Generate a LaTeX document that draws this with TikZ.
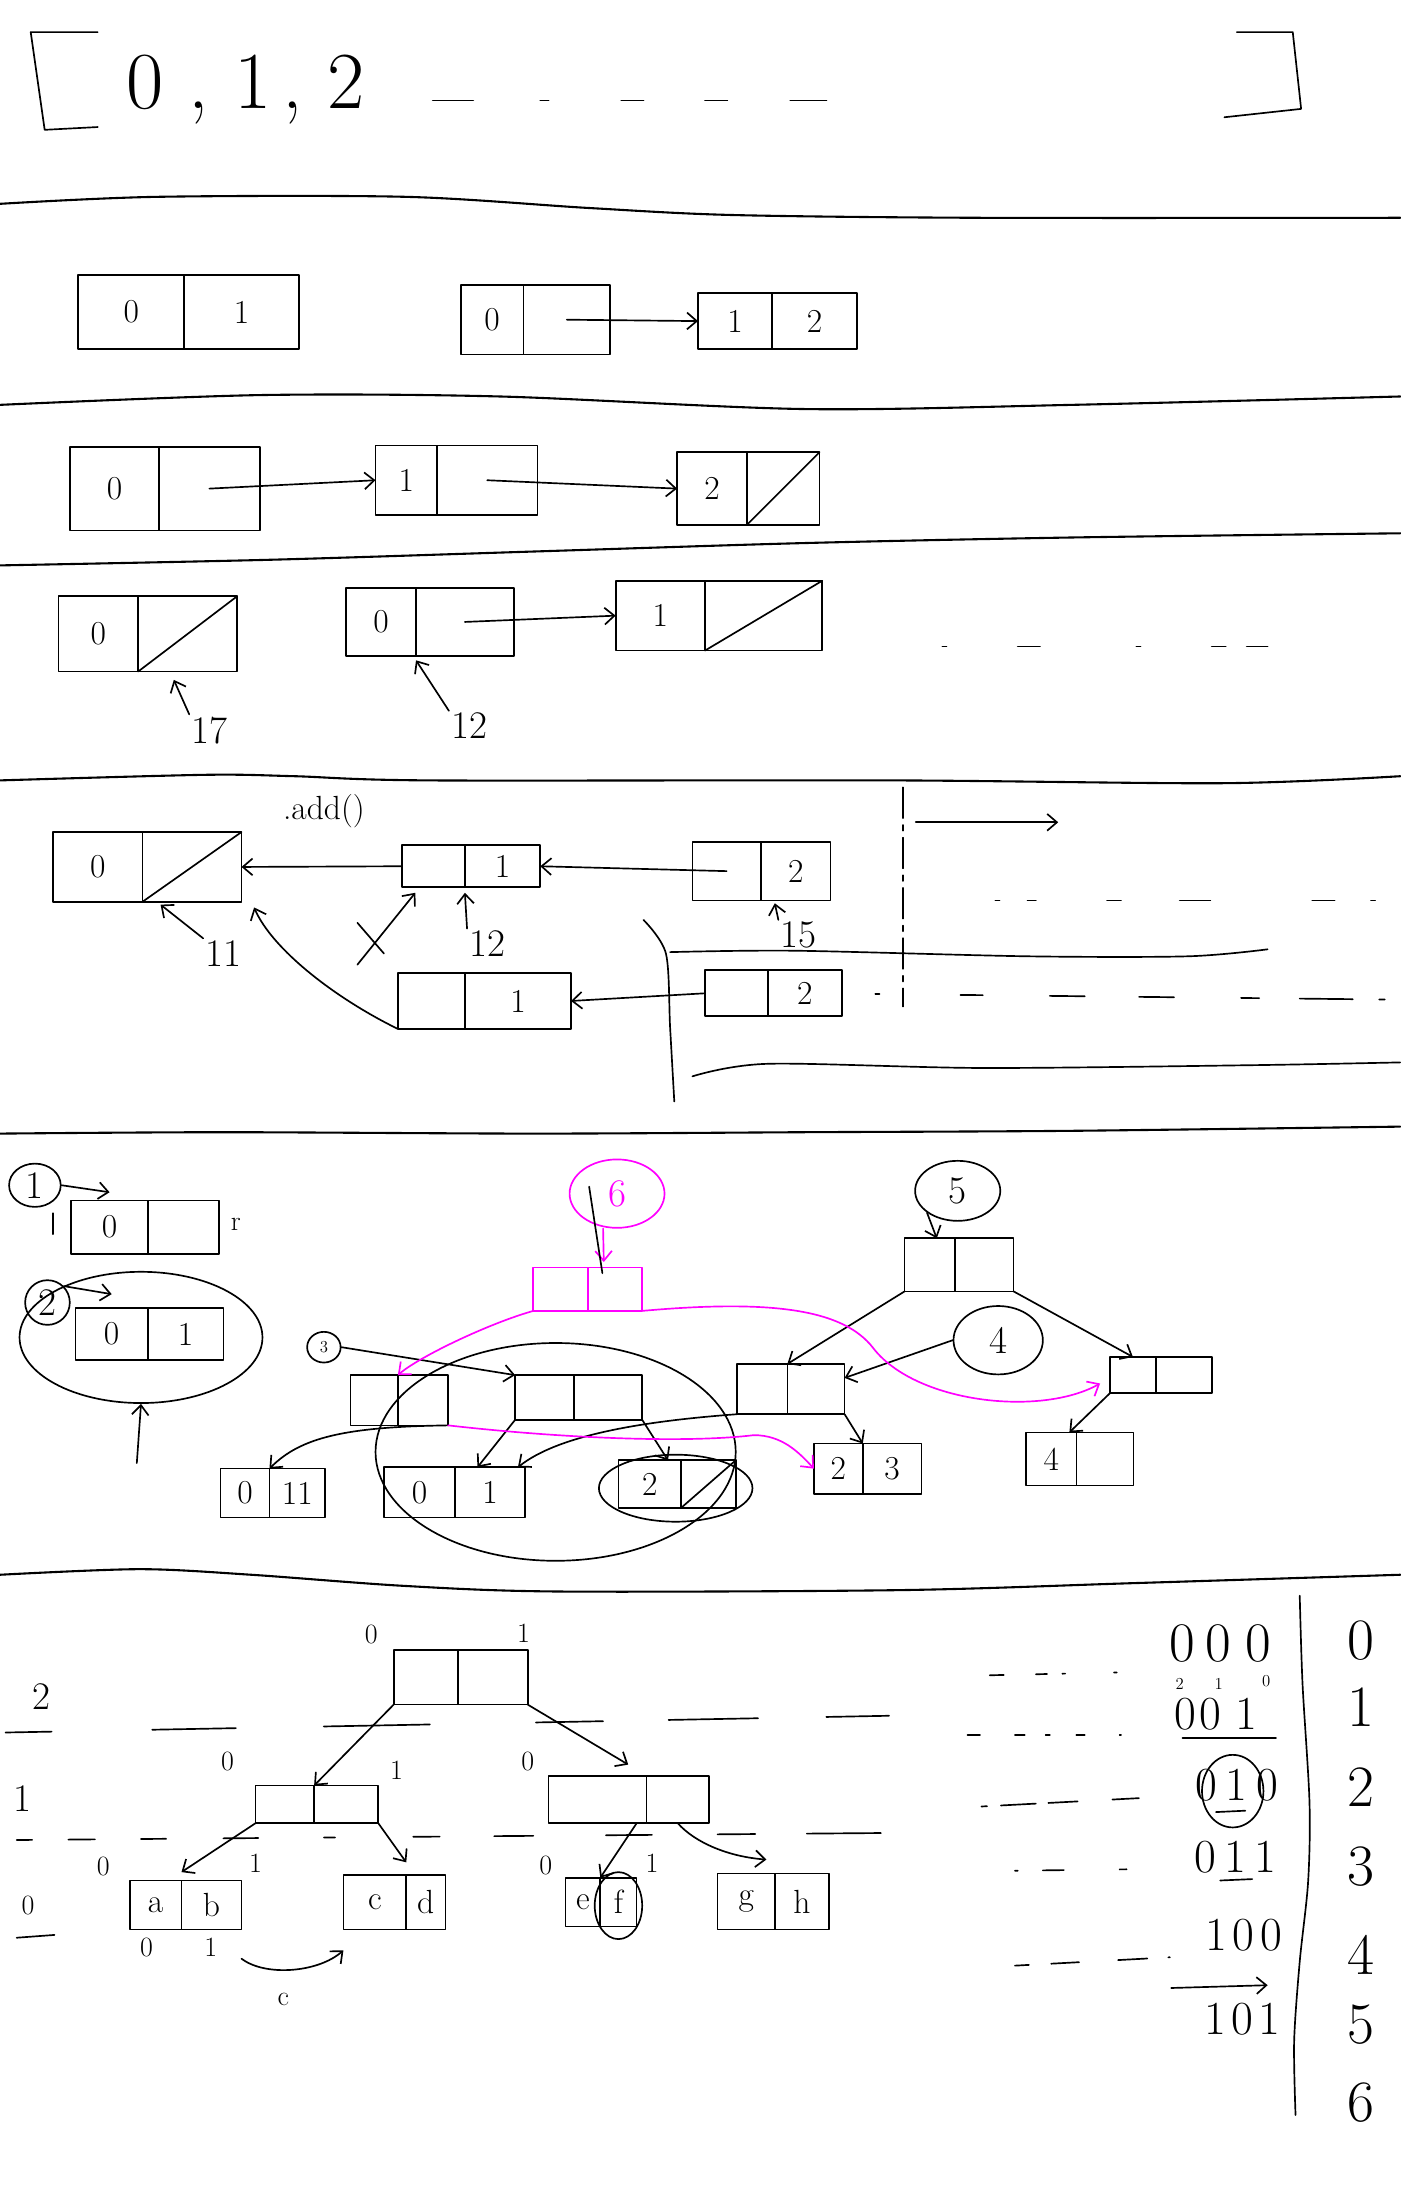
\documentclass[tikz,border=0pt]{standalone}
\usepackage{fontspec}
\usetikzlibrary{arrows.meta,positioning,shapes.geometric}
\definecolor{pen}{RGB}{255,0,255}

\begin{document}
\begin{tikzpicture}[x=1pt,y=-1pt,line width=1.2pt,line cap=round,line join=round,
                    >={Straight Barb[length=7pt,width=12pt]},
                    every edge/.append style={->},
                    half/.style={draw,inner sep=0pt,outer sep=0pt,font=\fontsize{24}{28}\selectfont},
                    ring/.style={draw,ellipse,inner sep=0pt},
                    num/.style={inner sep=1pt,font=\fontsize{28}{32}\selectfont},
                    bit/.style={inner sep=1pt,font=\fontsize{20}{24}\selectfont},
                    word/.style={inner sep=1pt,font=\fontsize{34}{38}\selectfont},
                    col/.style={inner sep=1pt,font=\fontsize{42}{46}\selectfont},
                    tiny/.style={inner sep=0pt,font=\fontsize{12}{14}\selectfont},
                    hsep/.style={line width=1.5pt}]

 \useasboundingbox (0,0) rectangle (1003,1568);

 % the list
 \draw (70,23) -- (22,23) -- (32,93) -- (70,91);
 \draw (886,23) -- (926,23) -- (932,78) -- (877,84);
 \node[anchor=base west,inner sep=0pt,font=\fontsize{58}{64}\selectfont] (seq) at (90,78) {0\hspace{18pt},\hspace{18pt}1\hspace{8pt},\hspace{18pt}2};
 \draw[dash pattern=on 29pt off 48pt on 6pt off 52pt on 16pt off 44pt on 16pt off 45pt on 26pt off 20pt] (310,72) -- (592,72);
 \draw[hsep] plot[smooth] coordinates {(0,146) (112,141) (291,141) (422,149) (524,154) (700,156) (1003,156)};

 % one and two nodes
 \node[half,minimum width=76,minimum height=53] (A0) at (94,223.5) {0};
 \node[half,minimum width=82,minimum height=53,right=0pt of A0] (A1) {1};
 \node[half,minimum width=45,minimum height=50] (B0) at (352.5,229) {0};
 \node[half,minimum width=62,minimum height=50,right=0pt of B0] (B1) {};
 \node[half,minimum width=53,minimum height=40] (C0) at (526.5,230) {1};
 \node[half,minimum width=61,minimum height=40,right=0pt of C0] (C1) {2};
 \path (B1.center) edge (C0.west);
 \draw[hsep] plot[smooth] coordinates {(0,290) (186,283) (358,284) (576,293) (768,290) (1003,284)};

 % chain
 \node[half,minimum width=64,minimum height=60] (D0) at (82,350) {0};
 \node[half,minimum width=72,minimum height=60,right=0pt of D0] (D1) {};
 \node[half,minimum width=44,minimum height=50] (E0) at (291,344) {1};
 \node[half,minimum width=72,minimum height=50,right=0pt of E0] (E1) {};
 \node[half,minimum width=50,minimum height=52] (F0) at (510,350) {2};
 \node[half,minimum width=52,minimum height=52,right=0pt of F0] (F1) {};
 \draw (F1.south west) -- (F1.north east);
 \path (D1.center) edge (E0.west)
       (E1.center) edge (F0.west);
 \draw[hsep] plot[smooth] coordinates {(0,405) (192,401) (384,395) (576,389) (768,385) (1003,382)};

 % two lists
 \node[half,minimum width=57,minimum height=54] (G0) at (70.5,454) {0};
 \node[half,minimum width=71,minimum height=54,right=0pt of G0] (G1) {};
 \draw (G1.south west) -- (G1.north east);
 \node[half,minimum width=50,minimum height=49] (H0) at (273,445.5) {0};
 \node[half,minimum width=70,minimum height=49,right=0pt of H0] (H1) {};
 \node[half,minimum width=64,minimum height=50] (I0) at (473,441) {1};
 \node[half,minimum width=84,minimum height=50,right=0pt of I0] (I1) {};
 \draw (I1.south west) -- (I1.north east);
 \node[num] (n17) at (150,523) {17};
 \node[num] (n12) at (336,520) {12};
 \path (H1.center) edge (I0.west)
       (n17.north west) edge ([xshift=-10pt,yshift=-6pt]G1.south)
       (n12.north west) edge ([yshift=-3pt]H1.south west);
 \draw[dash pattern=on 3pt off 51pt on 16pt off 69pt on 3pt off 51pt on 10pt off 15pt on 16pt off 20pt] (675,463) -- (908,463);
 \draw[hsep] plot[smooth] coordinates {(0,559) (147,555) (211,556) (307,559) (640,559) (877,561) (1003,556)};

 % add
 \node[font=\fontsize{24}{28}\selectfont] (add) at (232,581) {.add()};
 \node[half,minimum width=64,minimum height=50] (J0) at (70,621) {0};
 \node[half,minimum width=71,minimum height=50,right=0pt of J0] (J1) {};
 \draw (J1.south west) -- (J1.north east);
 \node[half,minimum width=45,minimum height=30] (K0) at (310.5,620.5) {};
 \node[half,minimum width=54,minimum height=30,right=0pt of K0] (K1) {1};
 \node[half,minimum width=49,minimum height=42] (L0) at (520.5,624) {};
 \node[half,minimum width=50,minimum height=42,right=0pt of L0] (L1) {2};
 \node[half,minimum width=48,minimum height=40] (M0) at (309,717) {};
 \node[half,minimum width=76,minimum height=40,right=0pt of M0] (M1) {1};
 \node[half,minimum width=45,minimum height=33] (N0) at (527.5,711.5) {};
 \node[half,minimum width=53,minimum height=33,right=0pt of N0] (N1) {2};
 \node[num] (n11) at (160,683) {11};
 \node[num] (m12) at (349,676) {12};
 \node[num] (n15) at (572,670) {15};
 \path (K0.west) edge (J1.east)
       (L0.center) edge (K1.east)
       (N0.west) edge (M1.east)
       (n11.north west) edge ([xshift=13pt,yshift=-2pt]J1.south west)
       (m12.north west) edge ([yshift=-4pt]K1.south west)
       (n15.north west) edge ([xshift=10pt,yshift=-2pt]L1.south west);
 \draw[->] (M0.south west) .. controls (240,715) and (195,680) .. ([xshift=9pt,yshift=-4pt]J1.south east);
 \draw[->] ([xshift=-53pt,yshift=6pt]M0.north) -- ([xshift=-13pt,yshift=-4pt]K0.south);
 \draw (256,661) -- (275,683);
 \draw plot[smooth] coordinates {(461,659) (477,683) (480,736) (483,789)};
 \draw plot[smooth] coordinates {(480,682) (569,681) (736,685) (851,685) (908,680)};
 \draw plot[smooth] coordinates {(496,771) (550,762) (704,765) (896,763) (1003,761)};
 \draw[dash pattern=on 22pt off 5pt on 4pt off 5pt] (647,564) -- (647,721);
 \draw[->] (656,589) -- (758,589);
 \draw[dash pattern=on 3pt off 20pt on 6pt off 51pt on 10pt off 42pt on 22pt off 73pt on 16pt off 26pt on 3pt off 20pt] (713,645) -- (990,645);
 \draw[dash pattern=on 3pt off 58pt on 16pt off 48pt on 25pt off 39pt on 25pt off 48pt on 13pt off 29pt on 38pt off 19pt on 4pt off 20pt] (627,712) -- (995,716);
 \draw[hsep] plot[smooth] coordinates {(0,812) (160,811) (384,812) (576,811) (768,810) (1003,807)};

 % trees
 \node[ring,minimum width=37,minimum height=31,num] (c1) at (25,849) {1};
 \node[half,minimum width=55,minimum height=38] (P0) at (78.5,879) {0};
 \node[half,minimum width=51,minimum height=38,right=0pt of P0] (P1) {};
 \draw (38,869) -- (38,884);
 \node[bit] (r) at (169,877) {r};
 \node[ring,minimum width=32,minimum height=32,num] (c2) at (34,933) {2};
 \node[half,minimum width=52,minimum height=37] (Q0) at (80,955.5) {0};
 \node[half,minimum width=54,minimum height=37,right=0pt of Q0] (Q1) {1};
 \node[ring,minimum width=174,minimum height=94] (big) at (101,958) {};
 \coordinate (base) at (98,1048);
 \path (c1.east) edge ([yshift=6pt]P0.north)
       (c2.north east) edge ([yshift=10pt]Q0.north)
       (base) edge (big.south);

 \node[ring,draw=pen,text=pen,minimum width=68,minimum height=49,num] (c6) at (442,855) {6};
 \node[half,draw=pen,minimum width=39,minimum height=31] (R0) at (401.5,923.5) {};
 \node[half,draw=pen,minimum width=39,minimum height=31,right=0pt of R0] (R1) {};
 \node[ring,minimum width=24,minimum height=22,tiny] (c3) at (232,965) {3};
 \node[half,minimum width=34,minimum height=36] (S0) at (268,1003) {};
 \node[half,minimum width=36,minimum height=36,right=0pt of S0] (S1) {};
 \node[half,minimum width=42,minimum height=32] (T0) at (390,1001) {};
 \node[half,minimum width=49,minimum height=32,right=0pt of T0] (T1) {};
 \node[half,minimum width=36,minimum height=36] (U0) at (546,995) {};
 \node[half,minimum width=41,minimum height=36,right=0pt of U0] (U1) {};
 \node[ring,minimum width=61,minimum height=43,num] (c5) at (686,853) {5};
 \node[half,minimum width=36,minimum height=38] (O0) at (666,906) {};
 \node[half,minimum width=42,minimum height=38,right=0pt of O0] (O1) {};
 \node[ring,minimum width=64,minimum height=49,num] (c4) at (715,960) {4};
 \node[half,minimum width=33,minimum height=26] (V0) at (811.5,985) {};
 \node[half,minimum width=40,minimum height=26,right=0pt of V0] (V1) {};
 \node[half,minimum width=36,minimum height=38] (W0) at (753,1045) {4};
 \node[half,minimum width=41,minimum height=38,right=0pt of W0] (W1) {};
 \node[half,minimum width=35,minimum height=35] (X0) at (175.5,1069.5) {0};
 \node[half,minimum width=40,minimum height=35,right=0pt of X0] (X1) {11};
 \node[half,minimum width=51,minimum height=36] (Y0) at (300.5,1069) {0};
 \node[half,minimum width=50,minimum height=36,right=0pt of Y0] (Y1) {1};
 \node[half,minimum width=45,minimum height=34] (Z0) at (465.5,1063) {2};
 \node[half,minimum width=39,minimum height=34,right=0pt of Z0] (Z1) {};
 \draw (Z1.south west) -- (Z1.north east);
 \node[half,minimum width=35,minimum height=36] (Ub0) at (600.5,1052) {2};
 \node[half,minimum width=42,minimum height=36,right=0pt of Ub0] (Ub1) {3};
 \node[ring,minimum width=258,minimum height=156] (lasso) at (398,1040) {};
 \node[ring,minimum width=110,minimum height=48] (hold) at (484,1066) {};

 \path (c3.east) edge (T0.north west)
       (c5.south west) edge ([xshift=5pt]O0.north)
       (c4.west) edge ([yshift=8pt]U1.east)
       (O0.south west) edge (U1.north west)
       (O1.south east) edge (V0.north)
       (V0.south west) edge ([xshift=-5pt]W0.north east)
       (T0.south west) edge ([xshift=16pt]Y1.north west)
       (T1.south east) edge ([xshift=13pt]Z0.north)
       (U1.south east) edge (Ub1.north west);
 \draw[->] (S1.south east) .. controls (246,1022) and (215,1030) .. (X0.north east);
 \draw[->] (U0.south west) .. controls (460,1018) and (400,1028) .. ([xshift=-5pt]Y1.north east);

 \path[pen] ([xshift=-10pt]c6.south) edge ([xshift=-8pt,yshift=4pt]R1.north);
 \draw ([xshift=-20pt,yshift=5pt]c6.center) -- ([xshift=-9pt,yshift=-4pt]R1.north);
 \draw[pen,->] (R0.south west) .. controls (350,948) and (300,972) .. (S0.north east);
 \draw[pen,->] (R1.south east) .. controls (560,930) and (605,940) .. (625,965) .. controls (655,1005) and (745,1015) .. ([xshift=-7pt,yshift=-6pt]V0.west);
 \draw[pen,->] (S1.south east) .. controls (400,1030) and (490,1034) .. (540,1028) .. controls (560,1028) and (572,1040) .. (Ub0.west);
 \draw[hsep] plot[smooth] coordinates {(0,1128) (100,1124) (180,1128) (290,1136) (400,1140) (645,1139) (812,1134) (1003,1128)};

 % bits
 \node[num] (lv2) at (30,1215) {2};
 \node[num] (lv1) at (16,1288) {1};
 \node[bit] (lv0) at (20,1365) {0};
 \draw[dash pattern=on 33pt off 72pt on 60pt off 63pt on 76pt off 76pt on 48pt off 47pt on 64pt off 49pt on 45pt off 20pt] (4,1241) -- (637,1229);
 \draw[dash pattern=on 11pt off 26pt on 19pt off 33pt on 18pt off 41pt on 25pt off 47pt on 8pt off 56pt on 19pt off 39pt on 28pt off 52pt on 33pt off 47pt on 27pt off 37pt on 53pt off 20pt] (12,1318) -- (631,1313);
 \draw (12,1388) -- (39,1386);

 \node[half,minimum width=46,minimum height=39] (ra0) at (305,1201.5) {};
 \node[half,minimum width=50,minimum height=39,right=0pt of ra0] (ra1) {};
 \node[half,minimum width=42,minimum height=27] (la0) at (204,1292.5) {};
 \node[half,minimum width=46,minimum height=27,right=0pt of la0] (la1) {};
 \node[half,minimum width=70,minimum height=34] (lb0) at (428,1289) {};
 \node[half,minimum width=45,minimum height=34,right=0pt of lb0] (lb1) {};
 \node[half,minimum width=37,minimum height=35] (ab0) at (111.5,1364.5) {a};
 \node[half,minimum width=43,minimum height=35,right=0pt of ab0] (ab1) {b};
 \node[half,minimum width=45,minimum height=39] (cd0) at (268.5,1362.5) {c};
 \node[half,minimum width=28,minimum height=39,right=0pt of cd0] (cd1) {d};
 \node[half,minimum width=25,minimum height=35] (ef0) at (417.5,1362.5) {e};
 \node[half,minimum width=26,minimum height=35,right=0pt of ef0] (ef1) {f};
 \node[half,minimum width=41,minimum height=40] (gh0) at (534.5,1362) {g};
 \node[half,minimum width=39,minimum height=40,right=0pt of gh0] (gh1) {h};
 \node[ring,minimum width=34,minimum height=48] (fring) at (443,1365) {};

 \node[bit] at (266,1171) {0};
 \node[bit] at (375,1170) {1};
 \node[bit] at (163,1262) {0};
 \node[bit] at (284,1268) {1};
 \node[bit] at (378,1262) {0};
 \node[bit] at (74,1337) {0};
 \node[bit] at (183,1335) {1};
 \node[bit] at (391,1336) {0};
 \node[bit] at (467,1335) {1};
 \node[bit] at (105,1395) {0};
 \node[bit] at (151,1395) {1};
 \node[bit] (cc) at (203,1432) {c};

 \path (ra0.south west) edge (la1.north west)
       (ra1.south east) edge ([xshift=-13pt,yshift=8pt]lb0.north east)
       (la0.south west) edge ([yshift=6pt]ab0.north east)
       (la1.south east) edge ([yshift=9pt]cd0.north east)
       ([xshift=-7pt]lb1.south west) edge (ef0.north east);
 \draw[->] (lb1.south) .. controls (498,1320) and (522,1330) .. ([xshift=-6pt,yshift=10pt]gh0.north east);
 \draw[->] ([yshift=-21pt]ab1.south east) .. controls (190,1416) and (228,1413) .. ([yshift=-15pt]cd0.south west);

 \draw[dash pattern=on 10pt off 23pt on 8pt off 11pt on 2pt off 35pt on 2pt off 10pt] (709,1200) -- (800,1198);
 \draw[dash pattern=on 9pt off 25pt on 7pt off 15pt on 3pt off 19pt on 6pt off 25pt on 2pt off 10pt] (693,1243) -- (803,1243);
 \draw[dash pattern=on 4pt off 10pt on 25pt off 9pt on 21pt off 25pt on 19pt off 10pt] (703,1294) -- (816,1288);
 \draw[dash pattern=on 2pt off 18pt on 15pt off 40pt on 5pt off 10pt] (727,1340) -- (807,1339);
 \draw[dash pattern=on 10pt off 16pt on 20pt off 28pt on 21pt off 15pt on 2pt off 10pt] (727,1408) -- (838,1402);

 \node[font=\fontsize{40}{44}\selectfont,inner sep=1pt] (w000) at (874,1177) {0\hspace{8pt}0\hspace{10pt}0};
 \node[tiny] at (845,1206) {2};
 \node[tiny] at (873,1206) {1};
 \node[tiny] at (907,1204) {0};
 \node[word] (w001) at (871,1228) {0\hspace{2pt}0\hspace{10pt}1};
 \draw (847,1245) -- (914,1245);
 \node[word] (w010) at (886,1279) {0\hspace{6pt}1\hspace{6pt}0};
 \node[ring,minimum width=44,minimum height=52] (mark) at (883,1283) {};
 \draw (871,1298) -- (892,1297);
 \node[word] (w011) at (885,1330) {0\hspace{6pt}1\hspace{6pt}1};
 \draw (874,1347) -- (897,1346);
 \node[word] (w100) at (891,1386) {1\hspace{4pt}0\hspace{4pt}0};
 \draw[->] (839,1424) -- (908,1422);
 \node[word] (w101) at (890,1446) {1\hspace{4pt}0\hspace{4pt}1};
 \draw plot[smooth] coordinates {(931,1143) (933,1206) (938,1291) (937,1348) (931,1405) (927,1462) (928,1515)};

 \node[col] (k0) at (975,1175) {0};
 \node[col] (k1) at (975,1223) {1};
 \node[col] (k2) at (975,1280) {2};
 \node[col] (k3) at (975,1337) {3};
 \node[col] (k4) at (975,1400) {4};
 \node[col] (k5) at (975,1450) {5};
 \node[col] (k6) at (975,1506) {6};

\end{tikzpicture}
\end{document}
